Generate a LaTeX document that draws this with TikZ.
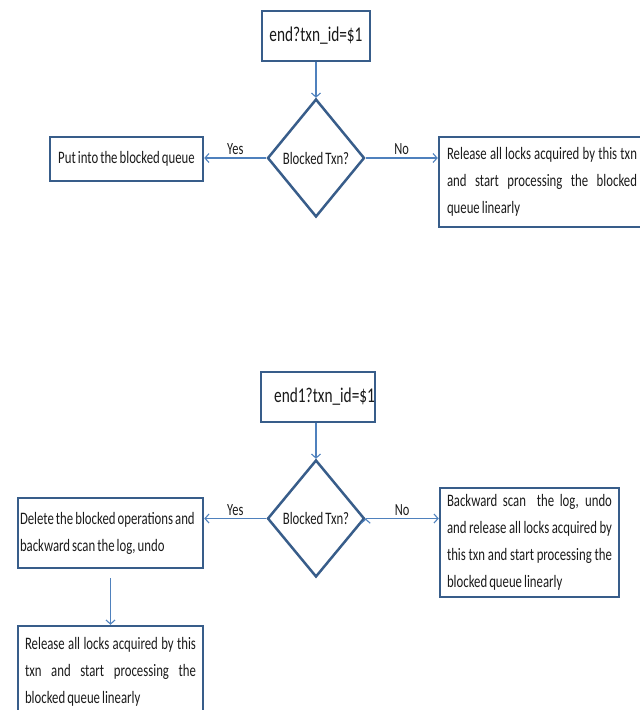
\documentclass[tikz,border=0pt]{standalone}
\usepackage{fontspec}
\setmainfont{Carlito}[FakeStretch=0.73, WordSpace=0.7]
\usetikzlibrary{positioning,shapes.geometric,arrows.meta}
\definecolor{boxline}{HTML}{385D8A}
\definecolor{flowline}{HTML}{4F81BD}
\definecolor{txtgray}{HTML}{1A1A1A}
% one justified line of a box
\newcommand{\fullline}[1]{\makebox[\hsize][s]{\spaceskip=0pt\xspaceskip=0pt #1}}

\begin{document}
\begin{tikzpicture}[
	%Environment config
	x=1pt, y=-1pt,
	font=\fontsize{17.5}{27}\selectfont,
	text=txtgray,
	%Environment styles
	BoxCfg/.style={
		rectangle,
		draw=boxline,
		line width=2.5pt,
		inner sep=0pt
	},
	QueryCfg/.style={BoxCfg, font=\fontsize{21}{24}\selectfont},
	DecideCfg/.style={BoxCfg, diamond, minimum width=97pt, minimum height=118pt},
	TxtCfg/.style={
		BoxCfg,
		align=flush left,
		inner xsep=7pt,
		execute at begin node={\spaceskip=0pt\xspaceskip=0pt}
	},
	FlowCfg/.style={
		draw=flowline,
		line width=1.1pt,
		-{Straight Barb[length=4pt,width=9pt]}
	},
	LblCfg/.style={font=\fontsize{17}{18}\selectfont, inner sep=2.5pt}
	]
	\useasboundingbox (0,0) rectangle (640,710);
	\clip (0,0) rectangle (640,710);
	% first chart: end?
	\path
	(316,36) node[QueryCfg, minimum width=108pt, minimum height=50pt](Q1){end?txn\_id=\$1}
	(316,158) node[DecideCfg](D1){Blocked Txn?}
	(126.5,159) node[BoxCfg, minimum width=153pt, minimum height=44pt](L1){Put into the blocked queue}
	(542,182) node[TxtCfg, text width=190pt, inner xsep=8pt, minimum height=90pt](R1){\fullline{Release all locks acquired by this txn}\\
		\fullline{and start processing the blocked}\\ queue linearly};
	% second chart: end1?
	\path
	(318,397) node[QueryCfg, align=flush right, text width=114pt, minimum height=50pt](Q2){end1?txn\_id=\$1}
	(316,518.5) node[DecideCfg, minimum height=117pt](D2){Blocked Txn?}
	(110.5,533) node[TxtCfg, inner xsep=2pt, text width=181pt, minimum height=70pt](L2){\makebox[\hsize][l]{Delete the blocked operations and}\\
		backward scan the log, undo}
	(529.5,542.5) node[TxtCfg, text width=165pt, minimum height=109pt](R2){\fullline{Backward scan~ the log, undo}\\
		\fullline{and release all locks acquired by}\\ \fullline{this txn and start processing the}\\ blocked queue linearly}
	(110.5,672) node[TxtCfg, text width=171pt, minimum height=92pt](B2){\fullline{Release all locks acquired by this}\\
		\fullline{txn and start processing the}\\ blocked queue linearly};

	\draw[FlowCfg]
	(Q1) edge (D1.north)
	(D1.west) edge node[LblCfg, above]{Yes} (D1.west -| L1.east)
	(D1.east) edge node[LblCfg, above]{No} (D1.east -| R1.west)
	(Q2.south -| D2.north) edge (D2.north)
	(D2.west) edge node[LblCfg, above]{Yes} (D2.west -| L2.east)
	(D2.east) edge node[LblCfg, above]{No} (D2.east -| R2.west);
	\draw[FlowCfg, shorten <=9pt] (L2.south) -- (B2.north);
\end{tikzpicture}
\end{document}
